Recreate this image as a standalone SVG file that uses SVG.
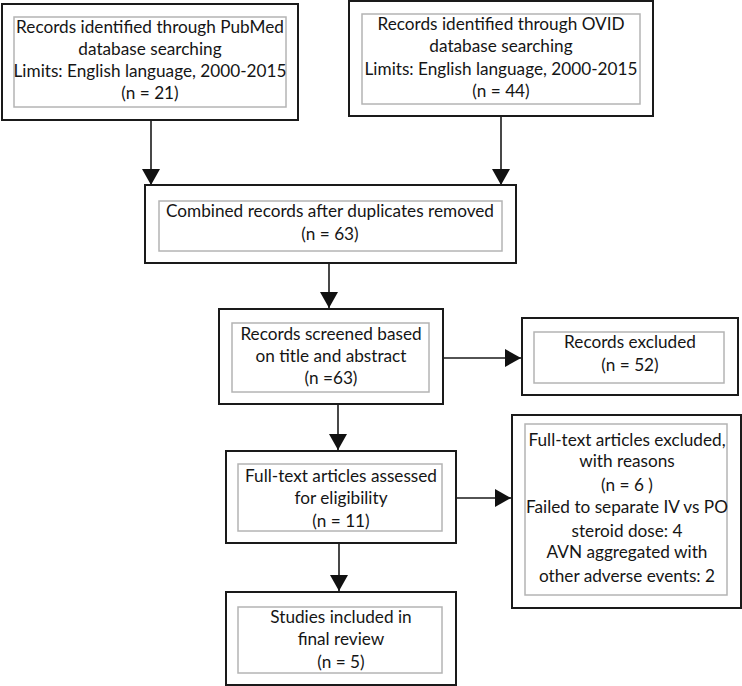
<svg xmlns="http://www.w3.org/2000/svg" width="742" height="686" viewBox="0 0 742 686">
<defs>
<style>
.o{fill:#fff;stroke:#1a1a1a;stroke-width:2}
.i{fill:none;stroke:#b4b4b4;stroke-width:1.5}
text{font-family:Lato,"Open Sans",sans-serif;font-size:17.2px;fill:#151515;text-anchor:middle}
.c{stroke:#1a1a1a;stroke-width:1.6;fill:none;marker-end:url(#ah)}
</style>
<marker id="ah" markerUnits="userSpaceOnUse" markerWidth="18" markerHeight="18" viewBox="0 0 16 18" refX="16" refY="9" orient="auto">
<path d="M0,0 L16,9 L0,18 Z" fill="#111"/>
</marker>
</defs>
<rect width="742" height="686" fill="#fff"/>
<g id="connectors">
<line class="c" x1="151" y1="120" x2="151" y2="185"/>
<line class="c" x1="501" y1="116" x2="501" y2="185"/>
<line class="c" x1="329" y1="263" x2="329" y2="308"/>
<line class="c" x1="443" y1="358" x2="521" y2="358"/>
<line class="c" x1="338" y1="404" x2="338" y2="450"/>
<line class="c" x1="456" y1="498" x2="511" y2="498"/>
<line class="c" x1="339" y1="543" x2="339" y2="591"/>
</g>
<g id="pubmed">
<rect class="o" x="2" y="4" width="296" height="116"/>
<rect class="i" x="14" y="17" width="272" height="90"/>
<text x="150" y="33">Records identified through PubMed</text>
<text x="150" y="55">database searching</text>
<text x="150" y="77">Limits: English language, 2000-2015</text>
<text x="150" y="99">(n = 21)</text>
</g>
<g id="ovid">
<rect class="o" x="349" y="1" width="304" height="115"/>
<rect class="i" x="362" y="14" width="278" height="90"/>
<text x="501" y="30">Records identified through OVID</text>
<text x="501" y="52">database searching</text>
<text x="501" y="75">Limits: English language, 2000-2015</text>
<text x="501" y="97">(n = 44)</text>
</g>
<g id="combined">
<rect class="o" x="145" y="185" width="371" height="78"/>
<rect class="i" x="159" y="201" width="343" height="50"/>
<text x="330" y="217">Combined records after duplicates removed</text>
<text x="330" y="240">(n = 63)</text>
</g>
<g id="screened">
<rect class="o" x="219" y="309" width="224" height="95"/>
<rect class="i" x="232" y="323" width="197" height="69"/>
<text x="331" y="340">Records screened based</text>
<text x="331" y="362">on title and abstract</text>
<text x="331" y="384">(n =63)</text>
</g>
<g id="excluded">
<rect class="o" x="522" y="318" width="216" height="77"/>
<rect class="i" x="534" y="332" width="190" height="51"/>
<text x="630" y="348">Records excluded</text>
<text x="630" y="371">(n = 52)</text>
</g>
<g id="fulltext">
<rect class="o" x="226" y="451" width="230" height="92"/>
<rect class="i" x="238" y="464" width="204" height="67"/>
<text x="341" y="482">Full-text articles assessed</text>
<text x="341" y="504">for eligibility</text>
<text x="341" y="527">(n = 11)</text>
</g>
<g id="ftexcluded">
<rect class="o" x="512" y="415" width="229" height="193"/>
<rect class="i" x="525" y="424" width="202" height="171"/>
<text x="627" y="446">Full-text articles excluded,</text>
<text x="627" y="467">with reasons</text>
<text x="627" y="491">(n = 6 )</text>
<text x="627" y="513">Failed to separate IV vs PO</text>
<text x="627" y="537">steroid dose: 4</text>
<text x="627" y="558">AVN aggregated with</text>
<text x="627" y="582">other adverse events: 2</text>
</g>
<g id="included">
<rect class="o" x="226" y="592" width="230" height="93"/>
<rect class="i" x="238" y="607" width="204" height="66"/>
<text x="341" y="623">Studies included in</text>
<text x="341" y="645">final review</text>
<text x="341" y="668">(n = 5)</text>
</g>
</svg>
